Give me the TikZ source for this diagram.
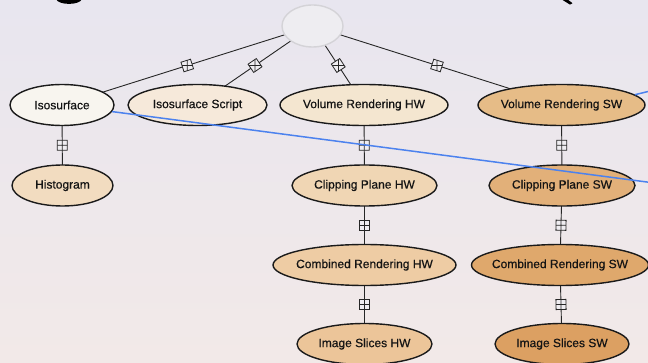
\documentclass[tikz,border=0pt]{standalone}
\usepackage{fontspec}
\setmainfont{Liberation Sans}[FakeBold=0.5]
\usetikzlibrary{shapes.geometric}
\pgfdeclarelayer{backdrop}
\pgfdeclarelayer{links}
\pgfsetlayers{backdrop,links,main}

\definecolor{bgtop}{HTML}{E8E6EF}
\definecolor{bgbot}{HTML}{F2E9E8}
\definecolor{inkline}{HTML}{262626}
\definecolor{inkoval}{HTML}{1A1A1A}
\definecolor{boxfill}{HTML}{EFEDF1}
\definecolor{rootfill}{HTML}{EEEDF1}
\definecolor{rootdraw}{HTML}{D4D3D7}
\definecolor{linkblue}{HTML}{4C82EE}
\definecolor{cIso}{HTML}{F8F5EF}
\definecolor{cIsoScript}{HTML}{F6E9DA}
\definecolor{cVRHW}{HTML}{F4E6D0}
\definecolor{cVRSW}{HTML}{E6BC87}
\definecolor{cHist}{HTML}{F2DCC0}
\definecolor{cCPHW}{HTML}{F0D6B4}
\definecolor{cCPSW}{HTML}{E2B079}
\definecolor{cCRHW}{HTML}{EECCA4}
\definecolor{cCRSW}{HTML}{DFA86C}
\definecolor{cISHW}{HTML}{ECC599}
\definecolor{cISSW}{HTML}{DCA062}

\tikzset{
  oval/.style 2 args={ellipse, draw=inkoval, line width=1.4pt, inner sep=0pt,
    minimum width=#1, minimum height=41, fill=#2},
  every label/.style={font=\fontsize{12}{14}\selectfont, text=black!92, inner sep=0pt},
  link/.style={draw=inkline, line width=0.9pt},
  plusbox/.style={rectangle, draw=inkline, line width=0.8pt, fill=boxfill,
    minimum size=10, inner sep=0pt,
    path picture={
      \draw[inkline, line width=0.7pt]
        (path picture bounding box.north) -- (path picture bounding box.south)
        (path picture bounding box.west) -- (path picture bounding box.east);
    }},
  bluelink/.style={draw=linkblue, line width=1.5pt},
}

\begin{document}
\begin{tikzpicture}[x=1pt, y=-1pt]
  \useasboundingbox (0,0) rectangle (648,363);
  \clip (0,0) rectangle (648,363);

  % backdrop gradient and the cut-off title descenders
  \begin{pgfonlayer}{backdrop}
    \shade[top color=bgtop, bottom color=bgbot] (0,0) rectangle (648,363);
    \fill[black] (56,-1) .. controls (58,5.5) and (80,5.5) .. (82,-1) -- cycle;
    \fill[black] (561,-1) -- (567,-1) .. controls (569,1.5) .. (572.5,3.2)
      -- (570,4.6) .. controls (565,2.5) .. (561,-1) -- cycle;
  \end{pgfonlayer}

  % nodes
  \node[ellipse, draw=rootdraw, line width=1.4pt, fill=rootfill,
        minimum width=61, minimum height=42, inner sep=0pt] (root) at (312.5,26) {};

  \node[oval={104}{cIso},       label=center:{Isosurface}]            (iso)   at (62,105) {};
  \node[oval={139}{cIsoScript}, label=center:{Isosurface Script}]     (isos)  at (197.5,105) {};
  \node[oval={168}{cVRHW},      label=center:{Volume Rendering HW}]   (vrhw)  at (364,105) {};
  \node[oval={167}{cVRSW},      label=center:{Volume Rendering SW}]   (vrsw)  at (561.5,105) {};

  \node[oval={101}{cHist},      label=center:{Histogram}]             (hist)  at (62.5,185.5) {};
  \node[oval={145}{cCPHW},      label=center:{Clipping Plane HW}]     (cphw)  at (364.5,185.5) {};
  \node[oval={146}{cCPSW},      label=center:{Clipping Plane SW}]     (cpsw)  at (562,185.5) {};

  \node[oval={183}{cCRHW},      label=center:{Combined Rendering HW}] (crhw)  at (364.5,265) {};
  \node[oval={177}{cCRSW},      label=center:{Combined Rendering SW}] (crsw)  at (560,265) {};

  \node[oval={135}{cISHW},      label=center:{Image Slices HW}]       (ishw)  at (364.5,344) {};
  \node[oval={134}{cISSW},      label=center:{Image Slices SW}]       (issw)  at (562,344) {};

  % hierarchy connectors with their plus boxes
  \begin{pgfonlayer}{links}
    \foreach \a/\b in {root/iso, root/isos, root/vrhw, root/vrsw,
                       iso/hist, vrhw/cphw, cphw/crhw, crhw/ishw,
                       vrsw/cpsw, cpsw/crsw, crsw/issw}
      \draw[link] (\a.center) -- node[plusbox, sloped] {} (\b.center);
  \end{pgfonlayer}

  % cross links leaving the picture to the right
  \coordinate (offA) at (700,189);
  \coordinate (offB) at (700,79);
  \draw[bluelink] (iso) -- (offA);
  \draw[bluelink] (vrsw.8.3) -- (offB);
\end{tikzpicture}
\end{document}
